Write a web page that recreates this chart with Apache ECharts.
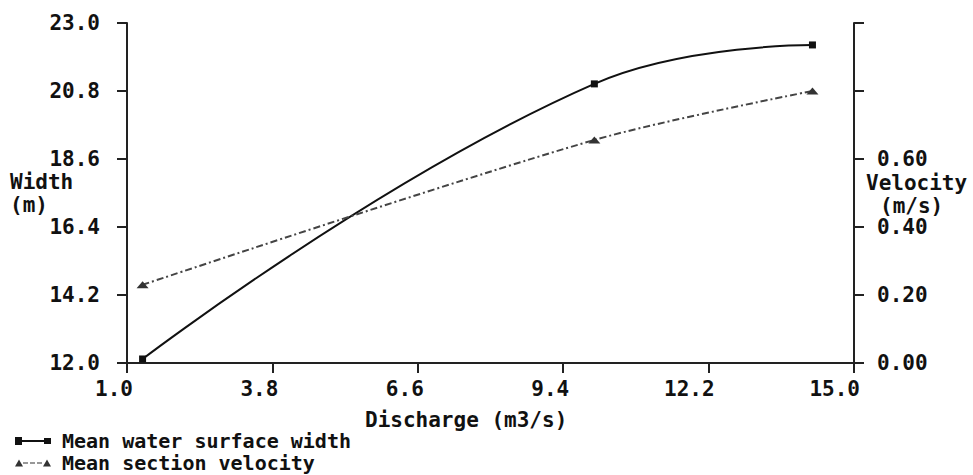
<!DOCTYPE html>
<html>
<head>
<meta charset="utf-8">
<script src="https://cdn.jsdelivr.net/npm/echarts@6/dist/echarts.min.js"></script>
<style>
  html, body { margin: 0; padding: 0; background: #fff; }
  #chart { width: 973px; height: 475px; }
</style>
</head>
<body>
<div id="chart"></div>
<script>
  // values
  const discharge = [1.3, 10.0, 14.2]
  const widthVals = [12.13, 21.03, 22.29]
  const velocityVals = [0.23, 0.656, 0.80]

  const xTicks = [1.0, 3.8, 6.6, 9.4, 12.2, 15.0]
  const widthTicks = [12.0, 14.2, 16.4, 18.6, 20.8, 23.0]
  const velTicks = [0, 0.2, 0.4, 0.6, 0.8, 1.0]
  const velLabels = [0, 0.2, 0.4, 0.6]

  const FONT = 'DejaVu Sans Mono'
  const txt = { fontFamily: FONT, fontWeight: 'bold', fontSize: 21, color: '#111' }
  const axisLine = { show: true, lineStyle: { color: '#222', width: 2 } }

  const chart = echarts.init(document.getElementById('chart'), null, { renderer: 'svg' })

  chart.setOption({
    animation: false,
    backgroundColor: '#fff',
    grid: { left: 127, right: 119, top: 23, bottom: 112 },
    xAxis: {
      type: 'value', min: 1, max: 15,
      axisLine: axisLine,
      splitLine: { show: false },
      axisTick: { show: true, length: 10, customValues: xTicks, lineStyle: { color: '#222', width: 2 } },
      axisLabel: {
        customValues: xTicks, margin: 15, align: 'right', padding: [0, -6, 0, 0],
        formatter: v => v.toFixed(1), ...txt
      }
    },
    yAxis: [
      {
        type: 'value', min: 12, max: 23, position: 'left',
        axisLine: axisLine,
        splitLine: { show: false },
        axisTick: { show: true, length: 10, customValues: widthTicks, lineStyle: { color: '#222', width: 2 } },
        axisLabel: { customValues: widthTicks, margin: 27, formatter: v => v.toFixed(1), ...txt }
      },
      {
        type: 'value', min: 0, max: 1, position: 'right',
        axisLine: axisLine,
        splitLine: { show: false },
        axisTick: { show: true, length: 10, customValues: velTicks, lineStyle: { color: '#222', width: 2 } },
        axisLabel: { customValues: velLabels, margin: 23, formatter: v => v.toFixed(2), ...txt }
      }
    ],
    legend: {
      orient: 'vertical', left: 15, top: 431, height: 60, itemGap: 2, padding: 0,
      itemWidth: 36, itemHeight: 8,
      textStyle: { ...txt, fontSize: 20, lineHeight: 20, padding: [0, 0, 0, 6] },
      data: [
        { name: 'Mean water surface width', icon: 'path://M0,0h7v8h-7zM7,3h22v2h-22zM29,1h7v6h-7z' },
        { name: 'Mean section velocity', icon: 'path://M0,8L4,1L8,8zM8,4h5v1h-5zM15,4h5v1h-5zM22,4h5v1h-5zM28,8L32,1L36,8z' }
      ]
    },
    graphic: [
      { type: 'text', left: 10, top: 171, style: { text: 'Width', font: 'bold 21px ' + FONT, fill: '#111' } },
      { type: 'text', left: 10, top: 194, style: { text: '(m)', font: 'bold 21px ' + FONT, fill: '#111' } },
      { type: 'text', left: 866, top: 172, style: { text: 'Velocity', font: 'bold 21px ' + FONT, fill: '#111' } },
      { type: 'text', left: 880, top: 195, style: { text: '(m/s)', font: 'bold 21px ' + FONT, fill: '#111' } },
      { type: 'text', left: 365, top: 409, style: { text: 'Discharge (m3/s)', font: 'bold 21px ' + FONT, fill: '#111' } }
    ],
    series: [
      {
        name: 'Mean water surface width',
        type: 'line', yAxisIndex: 0, smooth: 0.45,
        data: discharge.map((q, i) => [q, widthVals[i]]),
        symbol: 'rect', symbolSize: 7,
        lineStyle: { color: '#111', width: 2 },
        itemStyle: { color: '#111' }
      },
      {
        name: 'Mean section velocity',
        type: 'line', yAxisIndex: 1, smooth: 0.3,
        data: discharge.map((q, i) => [q, velocityVals[i]]),
        symbol: 'triangle', symbolSize: [12, 7],
        lineStyle: { color: '#444', width: 2, type: [7, 3, 2, 3] },
        itemStyle: { color: '#333' }
      }
    ]
  })
</script>
</body>
</html>
